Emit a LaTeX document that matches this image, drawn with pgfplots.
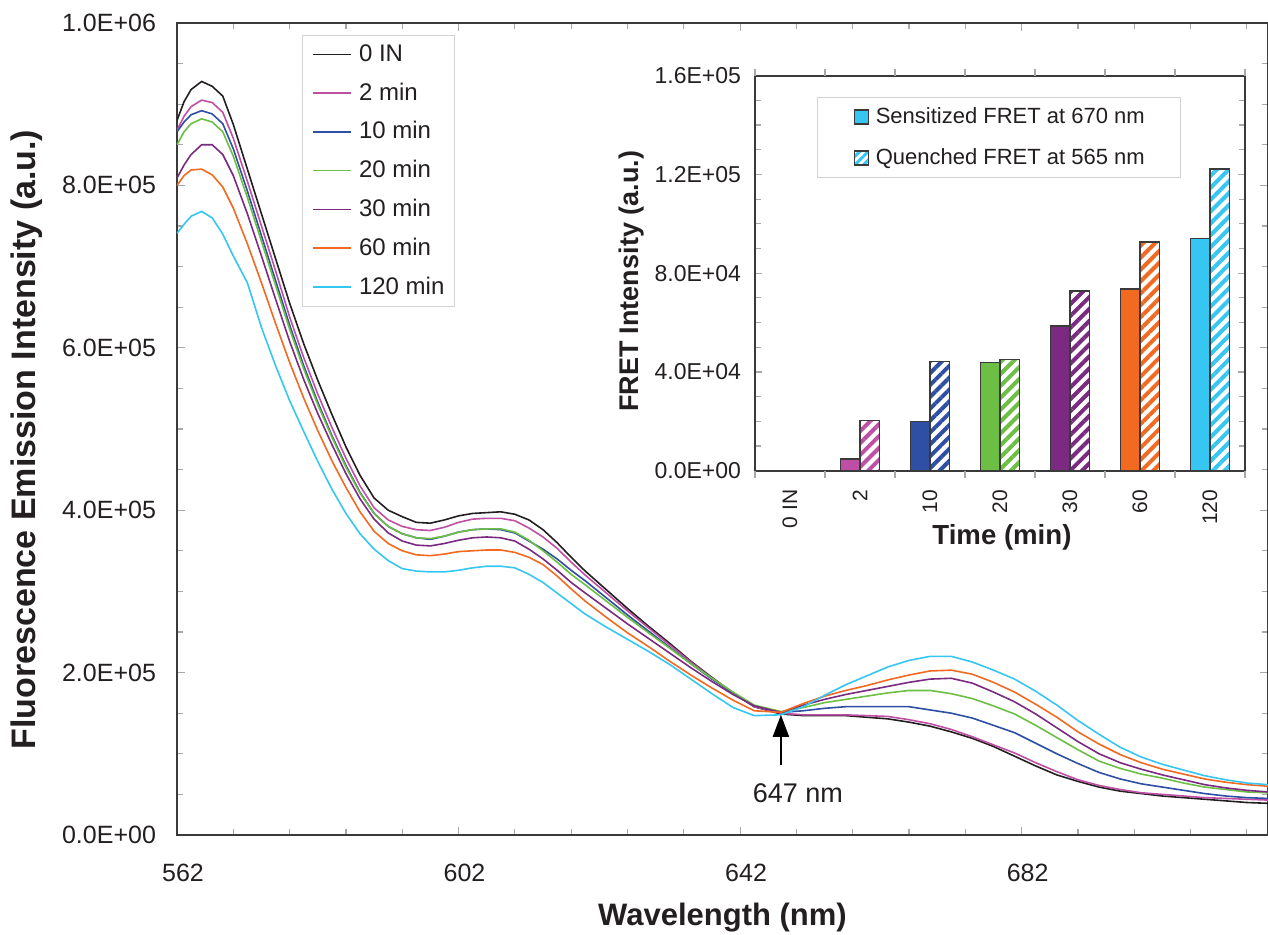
\documentclass[border=0pt]{standalone}
\usepackage{fontspec}
\setmainfont{Liberation Sans}
\usepackage{pgfplots}
\pgfplotsset{compat=1.18}
\usetikzlibrary{patterns.meta,arrows.meta}
\definecolor{cBlack}{HTML}{231F20}
\definecolor{cPink}{HTML}{BF4FA5}
\definecolor{cBlue}{HTML}{2E4FA3}
\definecolor{cGreen}{HTML}{6CBE45}
\definecolor{cPurple}{HTML}{7A2A80}
\definecolor{cOrange}{HTML}{F26A21}
\definecolor{cCyan}{HTML}{35C6F2}
\definecolor{tickgray}{HTML}{A8A8A8}
\definecolor{axisgray}{HTML}{3A3A3A}
\definecolor{legendgray}{HTML}{D2D2D2}
\begin{document}
\begin{tikzpicture}
\path[use as bounding box] (0,0) rectangle (634pt,467.5pt);
% ---------------- main spectrum axis ----------------
\begin{axis}[
  at={(88.5pt,50pt)}, anchor=south west,
  width=545.5pt, height=406pt, scale only axis,
  xmin=562, xmax=717, ymin=0, ymax=1000,
  axis line style={axisgray, line width=1pt},
  xtick={562,602,642,682}, xticklabels={562,602,642,682},
  minor xtick={570,578,...,714},
  ytick={0,200,...,1000},
  yticklabels={0.0E+00,2.0E+05,4.0E+05,6.0E+05,8.0E+05,1.0E+06},
  minor ytick={50,100,...,950},
  tick align=inside, major tick length=4pt, minor tick length=3pt,
  tick style={tickgray, line width=0.6pt},
  tick label style={font=\fontsize{12.5}{15}\selectfont, text=cBlack},
  xticklabel style={yshift=-11pt, xshift=3pt},
  yticklabel style={xshift=-7pt},
  xlabel={Wavelength (nm)},
  ylabel={Fluorescence Emission Intensity (a.u.)},
  every axis x label/.style={at={(axis description cs:0.5,-0.1022)}, anchor=center, font=\bfseries\fontsize{15.5}{18}\selectfont, text=cBlack},
  every axis y label/.style={at={(axis description cs:-0.1375,0.487)}, rotate=90, anchor=center, font=\bfseries\fontsize{17}{20}\selectfont, text=cBlack},
  no markers,
  legend cell align=left,
  legend image code/.code={\draw[line width=0.8pt,#1] (0pt,0pt) -- (19pt,0pt);},
  legend style={at={(0.1146,0.9852)}, anchor=north west, draw=legendgray, line width=0.6pt, fill=white,
    font=\fontsize{12}{14}\selectfont, text=cBlack, inner xsep=5pt, inner ysep=4.5pt, row sep=9.2pt,
    nodes={inner sep=0pt}, /tikz/every odd column/.append style={column sep=3.4pt}},
]
\addplot[cBlack, line width=0.8pt] coordinates {
(562,880) (563,903) (564,918) (565.5,928) (567,922) (568.5,910) (570,875) (572,820) (574,765) (576,710)
(578,655) (580,605) (582,560) (584,518) (586,478) (588,443) (590,415) (592,400) (594,392) (596,385)
(598,384) (600,388) (602,393) (604,396) (606,397) (608,398) (610,395) (612,388) (614,376) (616,360)
(618,342) (620,325) (623,302) (626,279) (629,257) (632,236) (635,214) (638,194) (641,175) (644,158)
(647.8,149) (651,147) (654,147) (657,147) (660,145) (663,143) (666,139) (669,134) (672,127) (675,119)
(678,109) (681,97) (684,85) (687,74) (690,66) (693,59) (696,54) (699,51) (702,48) (705,46)
(708,44) (711,42) (714,40) (717,39)};
\addlegendentry{0 IN}
\addplot[cPink, line width=0.8pt] coordinates {
(562,868) (563,885) (564,897) (565.5,905) (567,902) (568.5,890) (570,858) (572,805) (574,750) (576,695)
(578,638) (580,588) (582,543) (584,502) (586,464) (588,430) (590,403) (592,388) (594,380) (596,376)
(598,375) (600,379) (602,385) (604,389) (606,390) (608,390) (610,387) (612,378) (614,367) (616,353)
(618,336) (620,320) (623,298) (626,276) (629,255) (632,234) (635,213) (638,193) (641,175) (644,158)
(647.8,150) (651,148) (654,148) (657,148) (660,147) (663,146) (666,142) (669,137) (672,130) (675,121)
(678,111) (681,101) (684,89) (687,78) (690,68) (693,61) (696,56) (699,52) (702,50) (705,48)
(708,46) (711,45) (714,44) (717,43)};
\addlegendentry{2 min}
\addplot[cBlue, line width=0.8pt] coordinates {
(562,866) (563,878) (564,887) (565.5,892) (567,888) (568.5,876) (570,845) (572,793) (574,738) (576,683)
(578,628) (580,578) (582,533) (584,492) (586,455) (588,422) (590,396) (592,380) (594,371) (596,366)
(598,364) (600,368) (602,373) (604,376) (606,377) (608,376) (610,372) (612,362) (614,352) (616,340)
(618,326) (620,313) (623,292) (626,271) (629,251) (632,231) (635,211) (638,192) (641,175) (644,159)
(647.8,151) (651,153) (654,156) (657,158) (660,158) (663,158) (666,158) (669,154) (672,150) (675,144)
(678,135) (681,126) (684,113) (687,100) (690,88) (693,77) (696,69) (699,63) (702,59) (705,55)
(708,51) (711,48) (714,46) (717,45)};
\addlegendentry{10 min}
\addplot[cGreen, line width=0.8pt] coordinates {
(562,850) (563,866) (564,876) (565.5,882) (567,878) (568.5,866) (570,836) (572,785) (574,731) (576,677)
(578,623) (580,574) (582,530) (584,490) (586,453) (588,421) (590,396) (592,380) (594,371) (596,366)
(598,365) (600,368) (602,373) (604,376) (606,377) (608,377) (610,373) (612,363) (614,350) (616,336)
(618,321) (620,308) (623,288) (626,268) (629,249) (632,230) (635,211) (638,193) (641,176) (644,160)
(647.8,152) (651,157) (654,163) (657,167) (660,171) (663,175) (666,178) (669,178) (672,174) (675,168)
(678,159) (681,149) (684,135) (687,120) (690,105) (693,91) (696,82) (699,75) (702,70) (705,64)
(708,59) (711,56) (714,53) (717,52)};
\addlegendentry{20 min}
\addplot[cPurple, line width=0.8pt] coordinates {
(562,809) (563,825) (564,838) (565.5,850) (567,850) (568.5,838) (570,812) (572,765) (574,713) (576,660)
(578,608) (580,561) (582,519) (584,481) (586,445) (588,414) (590,389) (592,372) (594,362) (596,357)
(598,356) (600,359) (602,363) (604,366) (606,367) (608,366) (610,362) (612,352) (614,340) (616,326)
(618,311) (620,298) (623,279) (626,260) (629,242) (632,224) (635,206) (638,189) (641,173) (644,159)
(647.8,151) (651,160) (654,167) (657,173) (660,178) (663,183) (666,188) (669,192) (672,193) (675,187)
(678,176) (681,164) (684,149) (687,132) (690,115) (693,100) (696,89) (699,81) (702,74) (705,68)
(708,62) (711,58) (714,55) (717,53)};
\addlegendentry{30 min}
\addplot[cOrange, line width=0.8pt] coordinates {
(562,800) (563,812) (564,819) (565.5,820) (567,813) (568.5,798) (570,772) (572,728) (574,680) (576,630)
(578,582) (580,538) (582,498) (584,461) (586,428) (588,398) (590,374) (592,359) (594,350) (596,345)
(598,344) (600,346) (602,349) (604,350) (606,351) (608,351) (610,348) (612,342) (614,333) (616,319)
(618,303) (620,288) (623,268) (626,249) (629,232) (632,214) (635,197) (638,181) (641,166) (644,153)
(647.8,151) (651,162) (654,171) (657,178) (660,184) (663,191) (666,197) (669,202) (672,203) (675,198)
(678,188) (681,176) (684,161) (687,145) (690,127) (693,112) (696,99) (699,89) (702,81) (705,75)
(708,69) (711,65) (714,62) (717,60)};
\addlegendentry{60 min}
\addplot[cCyan, line width=0.8pt] coordinates {
(562,741) (563,752) (564,762) (565.5,768) (567,760) (568.5,740) (570,713) (572,680) (574,625) (576,578)
(578,535) (580,497) (582,460) (584,426) (586,396) (588,371) (590,352) (592,338) (594,328) (596,325)
(598,324) (600,324) (602,326) (604,329) (606,331) (608,331) (610,329) (612,321) (614,311) (616,298)
(618,285) (620,272) (623,256) (626,241) (629,226) (632,210) (635,192) (638,174) (641,157) (644,147)
(647.8,148) (651,158) (654,172) (657,185) (660,196) (663,207) (666,215) (669,220) (672,220) (675,213)
(678,203) (681,192) (684,177) (687,160) (690,141) (693,124) (696,108) (699,96) (702,87) (705,80)
(708,73) (711,68) (714,64) (717,62)};
\addlegendentry{120 min}
\draw[black, line width=1pt, -{Triangle[width=8pt,length=11pt]}] (axis cs:647.8,86) -- (axis cs:647.8,148);
\node[font=\fontsize{13.5}{16}\selectfont, text=cBlack] at (axis cs:650.2,51.7) {647 nm};
\end{axis}
% ---------------- inset bar chart ----------------
\begin{axis}[
  at={(377.5pt,232.15pt)}, anchor=south west,
  width=245pt, height=197.5pt, scale only axis,
  axis background/.style={fill=white},
  xmin=-0.5, xmax=6.5, ymin=0, ymax=160,
  axis line style={axisgray, line width=1pt},
  xtick={0,...,6}, xticklabels={0 IN,2,10,20,30,60,120},
  major x tick style={draw=none},
  extra x ticks={-0.5,0.5,...,6.5}, extra x tick labels={},
  extra x tick style={tick align=outside, major x tick style={draw=tickgray, line width=0.6pt}},
  ytick={0,40,...,160},
  yticklabels={0.0E+00,4.0E+04,8.0E+04,1.2E+05,1.6E+05},
  minor ytick={10,20,...,150},
  tick align=inside, major tick length=3.5pt, minor tick length=3pt,
  tick style={tickgray, line width=0.6pt},
  yticklabel style={font=\fontsize{11.5}{14}\selectfont, text=cBlack, xshift=-3.5pt},
  xticklabel style={font=\fontsize{10.5}{12}\selectfont, text=cBlack, yshift=-6pt, rotate=90, anchor=east},
  xlabel={Time (min)},
  ylabel={FRET Intensity (a.u.)},
  every axis x label/.style={at={(axis description cs:0.504,-0.168)}, anchor=center, font=\bfseries\fontsize{13.8}{16}\selectfont, text=cBlack},
  every axis y label/.style={at={(axis description cs:-0.251,0.479)}, rotate=90, anchor=center, font=\bfseries\fontsize{13.5}{16}\selectfont, text=cBlack},
  legend cell align=left,
  legend style={at={(0.1265,0.946)}, anchor=north west, draw=legendgray, line width=0.6pt, fill=white,
    font=\fontsize{11}{13}\selectfont, text=cBlack, inner xsep=18pt, inner ysep=5pt, row sep=11pt,
    nodes={inner sep=0pt}, /tikz/every odd column/.append style={column sep=3.5pt}},
]
\addlegendimage{legend image code/.code={\draw[fill=cCyan, draw=axisgray, line width=0.6pt] (0pt,-3.5pt) rectangle (7pt,3.5pt);}}
\addlegendentry{Sensitized FRET at 670 nm}
\addlegendimage{legend image code/.code={\draw[pattern={Lines[angle=45,distance=3pt,line width=1.5pt]}, pattern color=cCyan, draw=axisgray, line width=0.6pt] (0pt,-3.5pt) rectangle (7pt,3.5pt);}}
\addlegendentry{Quenched FRET at 565 nm}
% sensitized (solid)
\addplot[forget plot, ybar, bar width=0.28, bar shift=-0.14, fill=cPink, draw=axisgray, line width=0.6pt] coordinates {(1,4.7)};
\addplot[forget plot, ybar, bar width=0.28, bar shift=-0.14, fill=cBlue, draw=axisgray, line width=0.6pt] coordinates {(2,20.0)};
\addplot[forget plot, ybar, bar width=0.28, bar shift=-0.14, fill=cGreen, draw=axisgray, line width=0.6pt] coordinates {(3,43.7)};
\addplot[forget plot, ybar, bar width=0.28, bar shift=-0.14, fill=cPurple, draw=axisgray, line width=0.6pt] coordinates {(4,58.6)};
\addplot[forget plot, ybar, bar width=0.28, bar shift=-0.14, fill=cOrange, draw=axisgray, line width=0.6pt] coordinates {(5,73.6)};
\addplot[forget plot, ybar, bar width=0.28, bar shift=-0.14, fill=cCyan, draw=axisgray, line width=0.6pt] coordinates {(6,94.2)};
% quenched (hatched)
\addplot[forget plot, ybar, bar width=0.28, bar shift=0.14, pattern={Lines[angle=45,distance=4.2pt,line width=2pt]}, pattern color=cPink, draw=axisgray, line width=0.6pt] coordinates {(1,20.3)};
\addplot[forget plot, ybar, bar width=0.28, bar shift=0.14, pattern={Lines[angle=45,distance=4.2pt,line width=2pt]}, pattern color=cBlue, draw=axisgray, line width=0.6pt] coordinates {(2,44.3)};
\addplot[forget plot, ybar, bar width=0.28, bar shift=0.14, pattern={Lines[angle=45,distance=4.2pt,line width=2pt]}, pattern color=cGreen, draw=axisgray, line width=0.6pt] coordinates {(3,45.2)};
\addplot[forget plot, ybar, bar width=0.28, bar shift=0.14, pattern={Lines[angle=45,distance=4.2pt,line width=2pt]}, pattern color=cPurple, draw=axisgray, line width=0.6pt] coordinates {(4,72.8)};
\addplot[forget plot, ybar, bar width=0.28, bar shift=0.14, pattern={Lines[angle=45,distance=4.2pt,line width=2pt]}, pattern color=cOrange, draw=axisgray, line width=0.6pt] coordinates {(5,92.6)};
\addplot[forget plot, ybar, bar width=0.28, bar shift=0.14, pattern={Lines[angle=45,distance=4.2pt,line width=2pt]}, pattern color=cCyan, draw=axisgray, line width=0.6pt] coordinates {(6,122.2)};
\end{axis}
\end{tikzpicture}
\end{document}
